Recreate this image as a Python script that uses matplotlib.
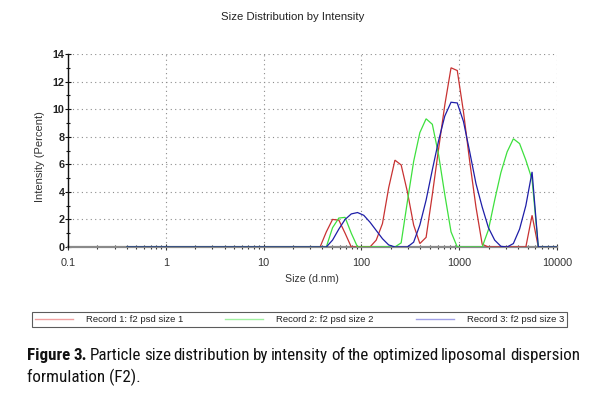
import matplotlib
matplotlib.use("Agg")
import matplotlib.pyplot as plt
from matplotlib import font_manager
from matplotlib.lines import Line2D
from matplotlib.ticker import LogLocator, FixedLocator, NullFormatter, FuncFormatter

# ---------------- data (Malvern size bins, d.nm) ----------------
size_nm = [0.4, 32.7, 37.8, 43.8, 50.7, 58.8, 68.1, 78.8, 91.3, 105.7, 122.4,
           141.8, 164.2, 190.1, 220.2, 255.0, 295.3, 342.0, 396.1, 458.7, 531.2,
           615.1, 712.4, 825.0, 955.4, 1106, 1281, 1484, 1718, 1990, 2305,
           2669, 3091, 3580, 4145, 4801, 5560, 6439, 7456, 8635, 10000]

record1 = [0, 0, 0, 1.1, 2.0, 1.95, 1.0, 0, 0, 0, 0,
           0.5, 1.7, 4.3, 6.3, 5.95, 4.0, 1.6, 0.25, 0.7, 3.8,
           7.1, 10.3, 13.0, 12.8, 9.8, 6.2, 2.9, 0.2, 0, 0,
           0, 0, 0, 0, 0, 2.3, 0, 0, 0, 0]

record2 = [0, 0, 0, 0, 1.4, 2.1, 2.15, 1.0, 0, 0, 0,
           0, 0, 0, 0, 0.3, 3.3, 6.2, 8.3, 9.3, 8.9,
           6.7, 3.8, 1.1, 0, 0, 0, 0, 0, 1.25, 3.4,
           5.4, 6.9, 7.85, 7.5, 6.3, 4.9, 0, 0, 0, 0]

record3 = [0, 0, 0, 0, 0.5, 1.3, 2.0, 2.4, 2.5, 2.3, 1.8,
           1.2, 0.6, 0.15, 0, 0, 0, 0.35, 1.6, 3.4, 5.6,
           7.7, 9.5, 10.5, 10.45, 9.1, 6.9, 4.6, 2.9, 1.4, 0.5,
           0.05, 0, 0.25, 1.3, 3.0, 5.45, 0, 0, 0, 0]

series_labels = ["Record 1: f2 psd size 1", "Record 2: f2 psd size 2",
                 "Record 3: f2 psd size 3"]
x_ticks = [0.1, 1, 10, 100, 1000, 10000]
x_ticklabels = ["0.1", "1", "10", "100", "1000", "10000"]
y_ticks = [0, 2, 4, 6, 8, 10, 12, 14]

title = "Size Distribution by Intensity"
xlabel = "Size (d.nm)"
ylabel = "Intensity (Percent)"
caption_bold = "Figure 3."
caption_rest = ("Particle size distribution by intensity of the optimized "
                "liposomal dispersion")
caption_line2 = "formulation (F2)."

line_colors = ["#c83232", "#3ee03e", "#1e1ea8"]
legend_colors = ["#f0a0a0", "#a0f0a0", "#a0a0e6"]

# ---------------- layout ----------------
W, H = 589, 394
fig = plt.figure(figsize=(W / 100, H / 100), dpi=100)
plt.rcParams['font.family'] = ['Liberation Sans', 'DejaVu Sans']

def fx(px):
    return px / W

def fy(py):
    return 1 - py / H

ax = fig.add_axes([fx(68), fy(247), fx(557) - fx(68), fy(54) - fy(247)])

for vals, col, lab in zip([record1, record2, record3], line_colors, series_labels):
    ax.plot(size_nm, vals, color=col, lw=0.9, label=lab, zorder=3,
            solid_joinstyle='miter')

ax.set_xscale('log')
ax.set_xlim(0.1, 10000)
ax.set_ylim(0, 14)

ax.xaxis.set_major_locator(FixedLocator(x_ticks))
ax.xaxis.set_major_formatter(FuncFormatter(lambda v, p: x_ticklabels[x_ticks.index(v)] if v in x_ticks else ""))
ax.xaxis.set_minor_locator(LogLocator(base=10, subs=range(2, 10)))
ax.xaxis.set_minor_formatter(NullFormatter())
ax.yaxis.set_major_locator(FixedLocator(y_ticks))
ax.yaxis.set_minor_locator(FixedLocator([1, 3, 5, 7, 9, 11, 13]))
ax.grid(True, which='major', color='#8c8c8c', lw=0.8, linestyle=(0, (1, 3)))
ax.set_axisbelow(True)

for s in ['top', 'right']:
    ax.spines[s].set_visible(False)
ax.spines['left'].set_color('#111111')
ax.spines['left'].set_linewidth(1.0)
ax.spines['bottom'].set_color('#8a8a8a')
ax.spines['bottom'].set_linewidth(1.6)
ax.spines['bottom'].set_zorder(2)

ax.tick_params(axis='x', which='major', direction='inout', length=4, width=0.8,
               color='#333333', labelsize=7.8, labelcolor='#333333', pad=6)
ax.tick_params(axis='x', which='minor', direction='inout', length=3, width=0.8,
               color='#333333')
ax.tick_params(axis='y', which='major', direction='inout', length=4, width=0.8,
               color='#111111', labelsize=7.8, labelcolor='#222222', pad=0.5)
ax.tick_params(axis='y', which='minor', direction='inout', length=3, width=0.8,
               color='#111111')
for t in ax.get_yticklabels():
    t.set_fontweight('bold')

fig.text(fx(293), fy(17), title, ha='center', va='center', fontsize=8.2,
         color='#222222')
fig.text(fx(312), fy(279), xlabel, ha='center', va='center', fontsize=7.6,
         color='#333333')
fig.text(fx(40), fy(157), ylabel, ha='center', va='center', fontsize=8,
         rotation=90, color='#333333')

handles = [Line2D([], [], color=c, lw=1.0) for c in legend_colors]
leg = fig.legend(handles, series_labels, loc='lower left',
                 bbox_to_anchor=(fx(32), fy(327), fx(567) - fx(32), fy(312) - fy(327)),
                 mode='expand', ncol=3, fontsize=6.8, frameon=True, fancybox=False,
                 edgecolor='#333333', borderaxespad=0, borderpad=0.3,
                 handlelength=4.0, handletextpad=1.4, columnspacing=2.0)
leg.get_frame().set_linewidth(0.8)
for t in leg.get_texts():
    t.set_color('#222222')

available = {f.name for f in font_manager.fontManager.ttflist}
cap_family = None
for cand in ['Liberation Sans Narrow', 'Roboto Condensed', 'Open Sans Condensed',
             'Liberation Sans']:
    if cand in available:
        cap_family = cand
        break
if cap_family is None:
    cap_family = 'DejaVu Sans'

renderer = fig.canvas.get_renderer()
words = caption_bold.split() + caption_rest.split()
weights = ['bold'] * len(caption_bold.split()) + ['normal'] * len(caption_rest.split())
x0, x1 = 27, 580
size = 12.5
for _ in range(30):
    texts = [fig.text(0, fy(360), w, fontsize=size, fontweight=wt, family=cap_family,
                      va='baseline', ha='left', color='#111111')
             for w, wt in zip(words, weights)]
    widths = [t.get_window_extent(renderer).width for t in texts]
    gap = ((x1 - x0) - sum(widths)) / (len(words) - 1)
    if gap >= size * 1.389 * 0.16:
        break
    for t in texts:
        t.remove()
    size *= 0.98
xpos = x0
for t, w in zip(texts, widths):
    t.set_x(fx(xpos))
    xpos += w + gap
fig.text(fx(x0), fy(382), caption_line2, fontsize=size, family=cap_family,
         va='baseline', ha='left', color='#111111')

fig.savefig('out.png', dpi=100)
